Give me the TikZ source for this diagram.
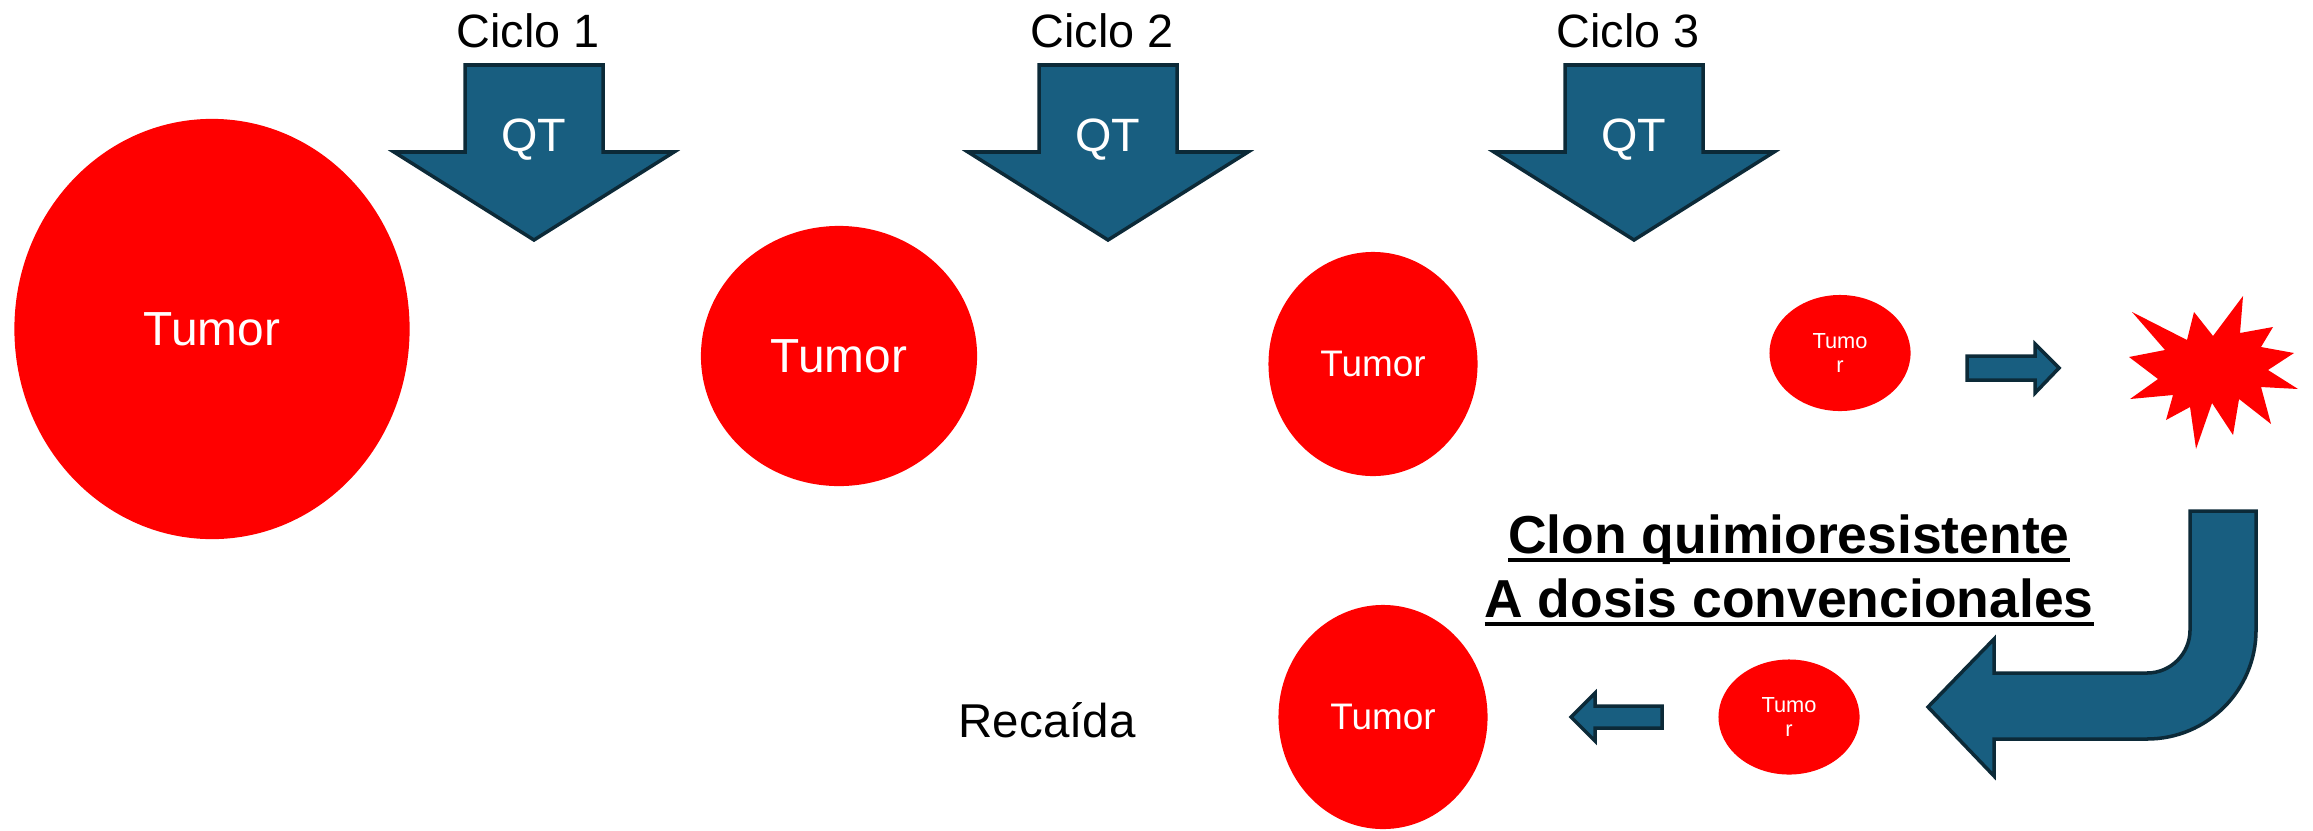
\documentclass[tikz,border=0pt]{standalone}
\usepackage{fontspec}
\setmainfont{Liberation Sans}
\usetikzlibrary{shapes.geometric}
\definecolor{qtfill}{RGB}{24,94,128}
\definecolor{qtline}{RGB}{12,42,56}
\newcommand{\ulin}[1]{\setbox0\hbox{#1}\rlap{\rule[-2.6pt]{\wd0}{1.1pt}}\box0}

\begin{document}
\begin{tikzpicture}[x=0.01cm, y=-0.01cm,
    tumor/.style={ellipse, fill=red, text=white, inner sep=0pt},
    qt/.style={fill=qtfill, draw=qtline, line width=1pt},
    lbl/.style={font=\fontsize{13.3}{16}\selectfont},
    big/.style={font=\fontsize{13.6}{16}\selectfont},
    mid/.style={font=\fontsize{10.5}{12.5}\selectfont},
    tiny/.style={font=\fontsize{6.2}{6.8}\selectfont, align=center}]
    \useasboundingbox (0,0) rectangle (2313,830);

    % tumores
    \node [tumor, big, minimum width=3.95cm, minimum height=4.2cm] (t1) at (212,329) {Tumor};
    \node [tumor, big, minimum width=2.76cm, minimum height=2.6cm] (t2) at (839,356) {Tumor};
    \node [tumor, mid, minimum width=2.09cm, minimum height=2.24cm] (t3) at (1373,364) {Tumor};
    \node [tumor, tiny, minimum width=1.41cm, minimum height=1.16cm] (t4) at (1840,353) {Tumo\\r};
    \node [tumor, mid, minimum width=2.09cm, minimum height=2.24cm] (t5) at (1383,717) {Tumor};
    \node [tumor, tiny, minimum width=1.41cm, minimum height=1.15cm] (t6) at (1789,717) {Tumo\\r};

    % ciclos de QT
    \foreach \cx/\n in {534/1, 1108/2, 1634/3} {
        \draw [qt] (\cx-69,65) -- (\cx+69,65) -- (\cx+69,152) -- (\cx+140,152)
            -- (\cx,240) -- (\cx-140,152) -- (\cx-69,152) -- cycle;
        \node [lbl, text=white, anchor=base] (qt\n) at (\cx,151) {QT};
        \node [lbl, anchor=base] (ciclo\n) at (\cx-6,47) {Ciclo \n};
    }

    \draw [qt] (1967,356) -- (2035,356) -- (2035,344) -- (2059,368)
        -- (2035,393) -- (2035,380) -- (1967,380) -- cycle;
    \fill [red] (2132,312) -- (2187,340) -- (2194,312) -- (2213,336) -- (2243,296)
        -- (2240,333) -- (2273,327) -- (2261,347) -- (2294,353) -- (2268,370)
        -- (2298,389) -- (2261,387) -- (2271,424) -- (2239,399) -- (2233,435)
        -- (2212,403) -- (2196,449) -- (2190,407) -- (2166,420) -- (2173,395)
        -- (2130,399) -- (2158,379) -- (2129,357) -- (2165,350) -- cycle;

    \draw [qt] (2190,511) -- (2256,511) -- (2256,630)
        arc [start angle=0, end angle=90, radius=109] -- (1994,739) -- (1994,776)
        -- (1928,707) -- (1994,639) -- (1994,673) -- (2147,673)
        arc [start angle=90, end angle=0, radius=43] -- cycle;
    \draw [qt] (1662,706) -- (1595,706) -- (1595,693) -- (1571,717)
        -- (1595,741) -- (1595,728) -- (1662,728) -- cycle;

    \node [font=\fontsize{15.2}{18}\selectfont\bfseries, anchor=base] (clon1) at (1789,553) {\ulin{Clon quimioresistente}};
    \node [font=\fontsize{15.2}{18}\selectfont\bfseries, anchor=base] (clon2) at (1789,617) {\ulin{A dosis convencionales}};
    \node [font=\fontsize{13.5}{16}\selectfont, anchor=base] (recaida) at (1047,737) {Recaída};
\end{tikzpicture}
\end{document}
